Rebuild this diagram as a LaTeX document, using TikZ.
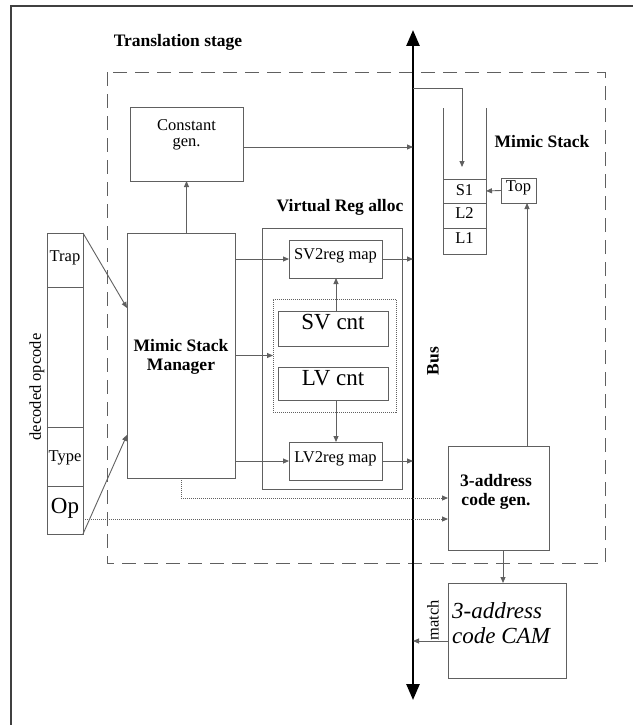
\documentclass[tikz,border=0pt]{standalone}
\usepackage{fontspec}
\setmainfont{Liberation Serif}
\usetikzlibrary{arrows.meta,calc}
\begin{document}
\begin{tikzpicture}[x=1pt,y=-1pt,
  ln/.style={draw=gray!75!black, line width=0.9pt},
  box/.style={ln, rectangle, inner sep=0pt, outer sep=0pt},
  arr/.style={ln, -{Triangle[length=6pt,width=5pt]}},
  dotarr/.style={ln, dash pattern=on 1pt off 1pt, -{Triangle[length=6pt,width=5pt]}},
  txt/.style={font=\fontsize{16.5}{16}\selectfont, inner sep=0pt, align=center},
  btxt/.style={font=\fontsize{17.5}{19}\selectfont\bfseries, inner sep=0pt, align=center},
  big/.style={font=\fontsize{23}{25}\selectfont, inner sep=0pt, align=center},
  bigit/.style={font=\fontsize{23}{25}\selectfont\itshape, inner sep=0pt, align=left}
]
\useasboundingbox (0,0) rectangle (633,725);
% outer frame
\draw[draw=black!75, line width=1.5pt] (11,725) -- (11,6) -- (633,6);
% translation stage
\node[btxt] (ttl) at (178,42) {Translation stage};
\draw[ln, dash pattern=on 14pt off 8pt] (107,72) rectangle (605,563);
% bus
\coordinate (bt) at (413,30);
\coordinate (bb) at (413,700);
\draw[black, line width=2.6pt, {Triangle[length=16pt,width=13pt]}-{Triangle[length=16pt,width=13pt]}] (bt) -- (bb);
\node[btxt, rotate=90] (bus) at (433,361) {Bus};
% constant gen
\node[box, minimum width=113pt, minimum height=74pt] (cg) at (186.5,144) {};
\node[txt] (cgt) at (186.5,135) {Constant\\gen.};
% mimic stack manager
\node[box, minimum width=108pt, minimum height=245pt] (msm) at (181,355.5) {};
\node[btxt] (msmt) at (181,357) {Mimic Stack\\Manager};
% decoded opcode
\node[box, minimum width=36pt, minimum height=301pt] (opc) at (65,383.5) {};
\draw[ln] (opc.west |- 0,287) coordinate (c1) -- (c1 -| opc.east);
\draw[ln] (opc.west |- 0,427) coordinate (c2) -- (c2 -| opc.east);
\draw[ln] (opc.west |- 0,486) coordinate (c3) -- (c3 -| opc.east);
\node[txt] (trap) at (65,258) {Trap};
\node[txt] (type) at (65,458) {Type};
\node[big] (op) at (65,508) {Op};
\node[txt, rotate=90] (dop) at (37,387) {decoded opcode};
% virtual reg alloc
\node[btxt] (vrat) at (340,207) {Virtual Reg alloc};
\node[box, minimum width=140pt, minimum height=261pt] (vra) at (332,358.5) {};
\node[box, minimum width=93pt, minimum height=38pt] (sv2) at (335.5,259) {};
\node[txt] at (335.5,256) {SV2reg map};
\node[box, dash pattern=on 1pt off 1pt, minimum width=123pt, minimum height=113pt] (dbox) at (334.5,355.5) {};
\node[box, minimum width=110pt, minimum height=35pt] (svc) at (333,328.5) {};
\node[big] at (333,322) {SV cnt};
\node[box, minimum width=110pt, minimum height=33pt] (lvc) at (333,383.5) {};
\node[big] at (333,378) {LV cnt};
\node[box, minimum width=93pt, minimum height=38pt] (lv2) at (335.5,461) {};
\node[txt] at (335.5,459) {LV2reg map};
% mimic stack
\node[btxt] (mst) at (542,142) {Mimic Stack};
\node[box, minimum width=43pt, minimum height=24pt] (s1) at (464.5,191) {};
\node[txt] at (464.5,190) {S1};
\node[box, minimum width=43pt, minimum height=25pt] (l2) at (464.5,215.5) {};
\node[txt] at (464.5,213) {L2};
\node[box, minimum width=43pt, minimum height=26pt] (l1) at (464.5,241) {};
\node[txt] at (464.5,238) {L1};
\draw[ln] (s1.north west) -- ++(0,-71);
\draw[ln] (s1.north east) -- ++(0,-71);
\node[box, minimum width=35pt, minimum height=25pt] (top) at (518.5,190.5) {};
\node[txt] at (518.5,188) {Top};
% 3-address code gen
\node[box, minimum width=101pt, minimum height=104pt] (gen) at (498.5,498) {};
\node[btxt] at (496,492) {3-address\\code gen.};
% CAM
\node[box, minimum width=118pt, minimum height=95pt] (cam) at (507,630.5) {};
\node[bigit, anchor=west] at (452,623) {3-address\\code CAM};
% connectors
\draw[arr] (cg.east |- 0,147) coordinate (cgo) -- (cgo -| bt);
\draw[arr] (msm.north -| cg.south) -- (cg.south);
\draw[arr] (msm.east |- sv2.west) -- (sv2.west);
\draw[arr] (msm.east |- dbox.west) -- (dbox.west);
\draw[arr] (msm.east |- lv2.west) -- (lv2.west);
\draw[arr] (sv2.east) -- (sv2.east -| bt);
\draw[arr] (lv2.east) -- (lv2.east -| bt);
\coordinate (sva) at (336,0);
\draw[arr] (sva |- svc.north) -- (sva |- sv2.south);
\draw[arr] (sva |- lvc.south) -- (sva |- lv2.north);
\draw[arr] (opc.north east) -- ($(msm.north west)!0.306!(msm.south west)$);
\draw[arr] (opc.south east) -- ($(msm.north west)!0.824!(msm.south west)$);
\draw[dotarr] (msm.south) |- (gen.west);
\coordinate (opo) at (83,519);
\draw[dotarr] (opo) -- (opo -| gen.west);
\coordinate (bsa) at (413,88);
\coordinate (bsb) at (462,167);
\draw[arr] (bsa) -| (bsb);
\draw[arr] (top.west) -- (s1.east);
\coordinate (tpx) at (527,0);
\draw[arr] (gen.north -| tpx) -- (top.south -| tpx);
\coordinate (gcx) at (503,0);
\draw[arr] (gen.south -| gcx) -- (cam.north -| gcx);
\coordinate (mt) at (448,641);
\draw[arr] (mt) -- (mt -| bt);
\node[txt, rotate=90] (match) at (433,620) {match};
\end{tikzpicture}
\end{document}
